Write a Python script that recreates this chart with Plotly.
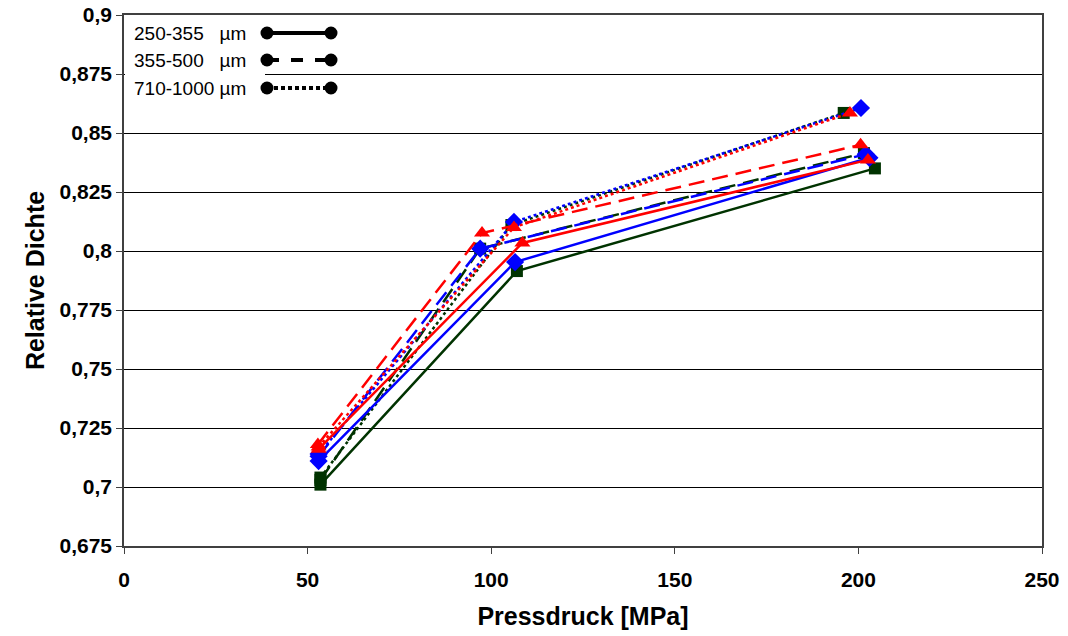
import plotly.graph_objects as go

# ---- data ----
green_solid_x = [53.5, 107.0, 204.5]
green_solid_y = [0.701, 0.7915, 0.835]
green_dash_x = [53.5, 97.0, 201.5]
green_dash_y = [0.703, 0.801, 0.8415]
green_dot_x = [53.5, 105.5, 196.0]
green_dot_y = [0.704, 0.811, 0.8585]

blue_solid_x = [53.0, 106.5, 203.0]
blue_solid_y = [0.711, 0.7953, 0.8395]
blue_dash_x = [53.0, 97.0, 202.0]
blue_dash_y = [0.713, 0.801, 0.841]
blue_dot_x = [53.0, 106.2, 200.7]
blue_dot_y = [0.714, 0.8123, 0.8606]

red_solid_x = [53.0, 108.5, 202.6]
red_solid_y = [0.716, 0.8034, 0.8386]
red_dash_x = [52.8, 97.5, 200.6]
red_dash_y = [0.718, 0.8076, 0.845]
red_dot_x = [53.0, 106.2, 197.7]
red_dot_y = [0.717, 0.810, 0.8585]

y_tickvals = [0.675, 0.7, 0.725, 0.75, 0.775, 0.8, 0.825, 0.85, 0.875, 0.9]
y_ticktext = ["0,675", "0,7", "0,725", "0,75", "0,775", "0,8", "0,825", "0,85", "0,875", "0,9"]
x_tickvals = [0, 50, 100, 150, 200, 250]

legend_labels = ["250-355\u00a0\u00a0 µm", "355-500\u00a0\u00a0 µm", "710-1000 µm"]

GREEN = "#003300"
BLUE = "#0000ff"
RED = "#ff0000"
DASH = "16px,8px"
DOT = "3px,3px"
FONT = "Liberation Sans, Arial"

series = [
    (green_solid_x, green_solid_y, GREEN, "solid", "square", 12),
    (green_dash_x, green_dash_y, GREEN, DASH, "square", 12),
    (green_dot_x, green_dot_y, GREEN, DOT, "square", 12),
    (blue_solid_x, blue_solid_y, BLUE, "solid", "diamond", 14),
    (blue_dash_x, blue_dash_y, BLUE, DASH, "diamond", 14),
    (blue_dot_x, blue_dot_y, BLUE, DOT, "diamond", 14),
    (red_solid_x, red_solid_y, RED, "solid", "triangle-up", 14),
    (red_dash_x, red_dash_y, RED, DASH, "triangle-up", 14),
    (red_dot_x, red_dot_y, RED, DOT, "triangle-up", 14),
]

fig = go.Figure()
for xs, ys, col, dash, sym, sz in series:
    fig.add_trace(go.Scatter(
        x=xs, y=ys, mode="lines+markers",
        line=dict(color=col, width=2.5, dash=dash),
        marker=dict(color=col, symbol=sym, size=sz, line=dict(width=0)),
        showlegend=False, hoverinfo="skip", cliponaxis=False,
    ))

# body margin is removed (post_script) -> figure origin at page (0, 0)
W, H = 1068, 636
L, R, T, B = 124, 26, 15, 90
pw, ph = W - L - R, H - T - B

def px2paper(x, y):
    return (x - L) / pw, 1 - (y - T) / ph

shapes = []
annotations = []
x0, y0 = px2paper(125, 16)
x1, y1 = px2paper(265, 102)
shapes.append(dict(type="rect", xref="paper", yref="paper", x0=x0, y0=y1, x1=x1, y1=y0,
                   fillcolor="white", line=dict(width=0), layer="above"))
row_y = [33, 60, 88]
dashes = ["solid", "12px,12px", "4px,3px"]
for lbl, ry, ds in zip(legend_labels, row_y, dashes):
    tx, ty = px2paper(132, ry)
    annotations.append(dict(text=lbl, xref="paper", yref="paper", x=tx, y=ty,
                            xanchor="left", yanchor="middle", showarrow=False,
                            font=dict(family=FONT, size=19, color="black")))
    ax0, ay = px2paper(267, ry)
    ax1, _ = px2paper(331, ry)
    shapes.append(dict(type="line", xref="paper", yref="paper", x0=ax0, y0=ay, x1=ax1, y1=ay,
                       line=dict(color="black", width=4, dash=ds), layer="above"))
    r = 6.5
    for cx in (267, 331):
        cx0, cy0 = px2paper(cx - r, ry - r)
        cx1, cy1 = px2paper(cx + r, ry + r)
        shapes.append(dict(type="circle", xref="paper", yref="paper", x0=cx0, y0=cy1, x1=cx1, y1=cy0,
                           fillcolor="black", line=dict(width=0), layer="above"))

fig.update_layout(
    width=W, height=H,
    margin=dict(l=L, r=R, t=T, b=B, autoexpand=False),
    paper_bgcolor="white", plot_bgcolor="white",
    font=dict(family=FONT, color="black"),
    shapes=shapes, annotations=annotations,
)
fig.update_xaxes(
    range=[0, 250], tickvals=x_tickvals, ticktext=["<b>%d</b>" % v for v in x_tickvals],
    showgrid=False, zeroline=False, automargin=False, ticklabeloverflow="allow",
    showline=True, linecolor="#404040", linewidth=1.5, mirror=True,
    ticks="outside", ticklen=6, tickcolor="#404040", ticklabelstandoff=8,
    tickfont=dict(size=21, family=FONT),
    title=dict(text="<b>Pressdruck [MPa]</b>", font=dict(size=25), standoff=18),
)
fig.update_yaxes(
    range=[0.675, 0.9], tickvals=y_tickvals, ticktext=["<b>%s</b>" % t for t in y_ticktext],
    showgrid=True, gridcolor="#000000", gridwidth=1, zeroline=False, automargin=False,
    ticklabeloverflow="allow",
    showline=True, linecolor="#404040", linewidth=1.5, mirror=True,
    ticks="outside", ticklen=6, tickcolor="#404040",
    tickfont=dict(size=21, family=FONT),
    title=dict(text="<b>Relative Dichte</b>", font=dict(size=25), standoff=8),
)

fig.write_html("out.html", config={"displayModeBar": False},
               post_script="document.body.style.margin='0';")
